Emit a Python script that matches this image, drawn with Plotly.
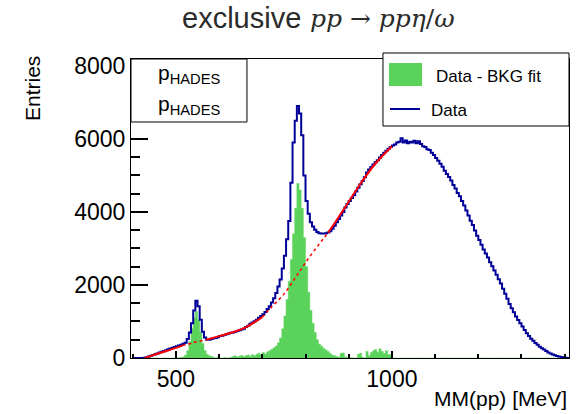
import numpy as np
import plotly.graph_objects as go

# Histogram binning of the missing mass MM(pp) in MeV
bin_lo = 400
bin_width = 5

# Measured MM(pp) spectrum ("Data"), entries per 5 MeV bin starting at 400 MeV
data_counts = [
    0, 0, 0, 0, 0, 10, 20, 40, 60, 80,
    100, 120, 150, 170, 190, 210, 240, 260, 280, 300,
    320, 340, 360, 390, 420, 520, 700, 950, 1300, 1570,
    1420, 1050, 720, 560, 500, 500, 520, 540, 550, 570,
    600, 610, 630, 650, 670, 690, 700, 720, 740, 760,
    780, 800, 850, 880, 940, 970, 1010, 1050, 1100, 1150,
    1200, 1260, 1340, 1420, 1520, 1640, 1780, 1960, 2150, 2450,
    2800, 3250, 3750, 4800, 5900, 6500, 6900, 6700, 6100, 5000,
    4300, 3950, 3720, 3600, 3510, 3450, 3420, 3410, 3410, 3420,
    3440, 3470, 3540, 3620, 3720, 3810, 3900, 4000, 4120, 4220,
    4300, 4380, 4460, 4560, 4660, 4760, 4850, 4950, 5080, 5160,
    5230, 5300, 5360, 5420, 5490, 5560, 5620, 5680, 5730, 5780,
    5820, 5850, 5900, 5920, 6020, 5900, 5960, 5880, 5920, 5900,
    5950, 5880, 5940, 5860, 5800, 5780, 5720, 5700, 5620, 5560,
    5480, 5400, 5320, 5240, 5130, 5040, 4960, 4860, 4740, 4640,
    4520, 4430, 4300, 4180, 4040, 3900, 3760, 3640, 3490, 3350,
    3230, 3100, 2970, 2860, 2750, 2620, 2510, 2400, 2280, 2160,
    2040, 1900, 1760, 1620, 1480, 1360, 1250, 1140, 1040, 950,
    860, 770, 680, 600, 530, 470, 410, 360, 310, 270,
    230, 190, 150, 120, 95, 75, 55, 40, 30, 20,
    10, 0,
]

# Background-subtracted spectrum ("Data - BKG fit"), same binning
signal_counts = [
    0, 0, 0, 0, 0, 0, 0, 0, 0, 0,
    0, 0, 0, 0, 0, 0, 0, 0, 0, 0,
    0, 10, 20, 30, 80, 200, 450, 800, 1100, 1270,
    1050, 700, 400, 200, 100, 60, 40, 20, 0, 30,
    0, 0, 10, 0, 0, 20, 40, 60, 30, 50,
    70, 40, 60, 80, 50, 90, 60, 100, 130, 80,
    150, 110, 170, 200, 240, 280, 330, 420, 550, 800,
    1150, 1600, 2100, 2700, 3400, 4100, 4780, 4600, 4100, 3300,
    2500, 1800, 1300, 950, 700, 500, 380, 320, 260, 220,
    180, 120, 80, 60, 40, 20, 120, 140, 30, 20,
    0, 10, 0, 0, 100, 130, 20, 0, 180, 60,
    150, 200, 230, 160, 250, 180, 120, 200, 90, 100,
]
signal_counts = signal_counts + [0] * (len(data_counts) - len(signal_counts))

# Background fit function sampled along MM(pp)
fit_x = [428, 450, 480, 515, 540, 570, 600, 630, 660, 700,
         720, 750, 780, 810, 852, 870, 900, 930, 960, 1000]
fit_y = [0, 90, 200, 340, 420, 500, 600, 700, 830, 1120,
         1380, 1750, 2260, 2780, 3430, 3740, 4280, 4820, 5300, 5800]
# Fit ranges (solid); the regions in between are the excluded peak windows (dotted)
fit_ranges = [(428, 515), (570, 700), (852, 1000)]
excluded_ranges = [(515, 570), (700, 852)]

x_range = [396, 1410]
y_range = [0, 8190]
x_major, x_minor = 500, 100
y_major, y_minor = 2000, 500

title_word = "exclusive"
title_reaction = "<i>pp</i> \u2192 <i>pp\u03b7</i>/<i>\u03c9</i>"
tag_label = "p<sub>HADES</sub>"
legend_labels = ["Data - BKG fit", "Data"]
x_title = "MM(pp) [MeV]"
y_title = "Entries"

GREEN = "#5bd35b"
BLUE = "#000099"
RED = "#ff0000"
FONT = "Liberation Sans, Arial, sans-serif"
SERIF = "DejaVu Serif, serif"


def step_xy(counts):
    edges = bin_lo + bin_width * np.arange(len(counts) + 1)
    xs = [float(e) for e in edges]
    ys = list(counts) + [counts[-1]]
    return xs, ys


fig = go.Figure()

sx, sy = step_xy(signal_counts)
fig.add_trace(go.Scatter(x=sx, y=sy, mode="lines", line_shape="hv",
                         line=dict(width=0.5, color=GREEN), fill="tozeroy",
                         fillcolor=GREEN, name=legend_labels[0], showlegend=False))

dx, dy = step_xy(data_counts)
fig.add_trace(go.Scatter(x=dx, y=dy, mode="lines", line_shape="hv",
                         line=dict(width=2, color=BLUE), name=legend_labels[1],
                         showlegend=False))


def fit_segment(lo, hi):
    pts = [(x, y) for x, y in zip(fit_x, fit_y) if lo <= x <= hi]
    return [p[0] for p in pts], [p[1] for p in pts]


for lo, hi in excluded_ranges:
    fx, fy = fit_segment(lo, hi)
    fig.add_trace(go.Scatter(x=fx, y=fy, mode="lines", line_shape="spline",
                             line=dict(width=1.5, color=RED, dash="dot"),
                             showlegend=False, hoverinfo="skip"))
for lo, hi in fit_ranges:
    fx, fy = fit_segment(lo, hi)
    fig.add_trace(go.Scatter(x=fx, y=fy, mode="lines", line_shape="spline",
                             line=dict(width=2, color=RED),
                             showlegend=False, hoverinfo="skip"))

# ROOT-style inward ticks on the left and bottom axes
axis_common = dict(showline=True, linecolor="black", linewidth=1, mirror=True,
                   showgrid=False, zeroline=False, ticks="inside",
                   tickcolor="black", tickwidth=2, layer="above traces",
                   tickmode="linear", tick0=0,
                   tickfont=dict(family=FONT, size=23, color="black"))

fig.update_xaxes(range=x_range, dtick=x_major, ticklen=7,
                 minor=dict(ticks="inside", dtick=x_minor, tick0=0, ticklen=4,
                            tickcolor="black", tickwidth=2, showgrid=False),
                 **axis_common)
fig.update_yaxes(range=y_range, dtick=y_major, ticklen=17,
                 minor=dict(ticks="inside", dtick=y_minor, tick0=0, ticklen=9,
                            tickcolor="black", tickwidth=2, showgrid=False),
                 **axis_common)

shapes = [
    # tag box, upper left
    dict(type="rect", xref="paper", yref="paper", x0=0, x1=0.2648, y0=0.7893, y1=1.0,
         line=dict(color="black", width=1), fillcolor="white", layer="above"),
    # legend box, upper right
    dict(type="rect", xref="paper", yref="paper", x0=0.5753, x1=1.0, y0=0.7759, y1=1.0201,
         line=dict(color="black", width=1), fillcolor="white", layer="above"),
    dict(type="rect", xref="paper", yref="paper", x0=0.5890, x1=0.6644, y0=0.9097, y1=0.9866,
         line=dict(width=0), fillcolor=GREEN, layer="above"),
    dict(type="line", xref="paper", yref="paper", x0=0.5913, x1=0.6598, y0=0.8328, y1=0.8328,
         line=dict(color=BLUE, width=2), layer="above"),
]

annotations = [
    dict(text=title_word, xref="paper", yref="paper", x=0.1119, y=1.137,
         xanchor="left", yanchor="middle", showarrow=False,
         font=dict(family=FONT, size=29, color="#2b2b2b")),
    dict(text=title_reaction, xref="paper", yref="paper", x=0.405, y=1.137,
         xanchor="left", yanchor="middle", showarrow=False,
         font=dict(family=SERIF, size=25, color="#2b2b2b")),
    dict(text=tag_label, xref="paper", yref="paper", x=0.0571, y=0.950,
         xanchor="left", yanchor="middle", showarrow=False,
         font=dict(family=FONT, size=21, color="black")),
    dict(text=tag_label, xref="paper", yref="paper", x=0.0571, y=0.846,
         xanchor="left", yanchor="middle", showarrow=False,
         font=dict(family=FONT, size=21, color="black")),
    dict(text=legend_labels[0], xref="paper", yref="paper", x=0.6918, y=0.9431,
         xanchor="left", yanchor="middle", showarrow=False,
         font=dict(family=FONT, size=17, color="black")),
    dict(text=legend_labels[1], xref="paper", yref="paper", x=0.6804, y=0.8261,
         xanchor="left", yanchor="middle", showarrow=False,
         font=dict(family=FONT, size=17, color="black")),
    dict(text=y_title, xref="paper", yref="paper", x=-0.2237, y=0.8997,
         xanchor="center", yanchor="middle", textangle=-90, showarrow=False,
         font=dict(family=FONT, size=21, color="black")),
    dict(text=x_title, xref="paper", yref="paper", x=1.0, y=-0.1338,
         xanchor="right", yanchor="middle", showarrow=False,
         font=dict(family=FONT, size=21, color="black")),
]

fig.update_layout(width=579, height=414,
                  margin=dict(l=131, r=10, t=59, b=56),
                  paper_bgcolor="white", plot_bgcolor="white",
                  showlegend=False, shapes=shapes, annotations=annotations)

fig.write_html("out.html")
